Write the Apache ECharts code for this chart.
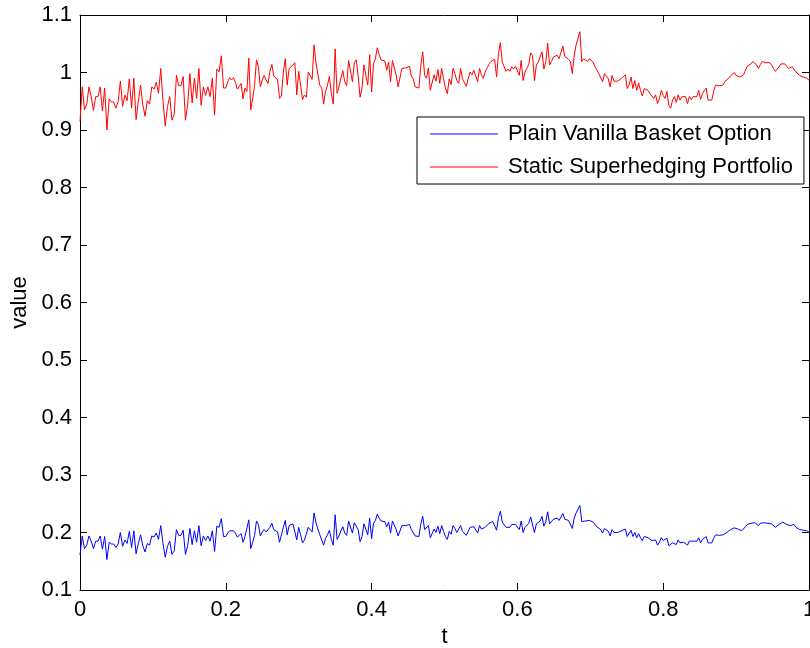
<!DOCTYPE html>
<html>
<head>
<meta charset="utf-8">
<script src="https://cdn.jsdelivr.net/npm/echarts@6/dist/echarts.min.js"></script>
<style>
html,body{margin:0;padding:0;background:#fff;}
#chart{width:810px;height:648px;}
</style>
</head>
<body>
<div id="chart"></div>
<script>
// Series names
const seriesNames = ['Plain Vanilla Basket Option', 'Static Superhedging Portfolio'];
// Axis ticks
const xTicks = [0, 0.2, 0.4, 0.6, 0.8, 1];
const yTicks = [0.1, 0.2, 0.3, 0.4, 0.5, 0.6, 0.7, 0.8, 0.9, 1, 1.1];
// segment boundaries on t (each segment spans 0.2)
const segStarts = [0, 0.2, 0.4, 0.6, 0.8];

// Static Superhedging Portfolio (red), read in five t-segments
const redSeg1 = [0.915,0.975,0.935,0.945,0.975,0.958,0.934,0.958,0.958,0.975,0.933,0.973,0.900,0.954,0.949,0.949,0.938,0.949,0.985,0.941,0.961,0.951,0.989,0.938,0.990,0.918,0.950,0.978,0.944,0.924,0.951,0.945,0.975,0.971,0.983,0.964,1.007,0.950,0.907,0.941,0.958,0.917,0.927,0.995,0.977,0.977,0.993,0.917,0.944,0.998,0.947,0.990,0.955,1.007,0.943,0.975,0.960,0.975,0.958,0.990,0.926,1.006,1.001,1.029,0.973];
const redSeg2 = [0.973,0.984,0.991,0.987,0.991,0.983,0.971,0.973,0.981,0.954,0.973,0.967,1.025,0.935,0.954,0.977,1.022,1.010,0.975,0.987,0.995,0.987,0.981,1.002,1.014,0.994,0.994,0.987,0.955,0.959,1.001,1.024,0.978,1.007,1.006,1.013,1.017,0.961,1.002,0.978,0.953,0.961,0.957,1.001,1.004,0.988,1.048,1.017,0.997,0.978,0.973,0.945,0.967,0.978,0.993,0.964,0.945,1.041,0.964,0.975,0.990,1.003,0.984,0.977,1.021,1.024,0.984,1.017,1.022,0.994,0.957,0.973,1.013,1.010,0.978,1.031];
const redSeg3 = [0.966,1.015,1.024,1.043,1.031,1.022,1.021,1.020,1.004,1.018,0.984,1.021,1.022,0.995,0.975,0.978,1.007,1.010,1.008,1.010,1.011,0.994,0.989,0.975,0.973,0.973,1.013,1.036,0.995,0.990,1.008,0.969,0.969,0.996,0.985,1.005,0.981,1.007,0.989,0.973,0.963,0.989,0.979,1.007,0.998,0.986,0.981,1.007,0.989,0.989,0.976,0.989,1.001,0.996,1.004,1.005,0.984,1.007,0.996,0.990,1.001,1.008,1.014,1.019,1.019,1.023,0.992,1.033,1.052,1.018,1.015,1.002,1.006,1.002,1.010,1.006,1.011];
const redSeg4 = [1.010,0.995,1.021,0.986,1.001,1.007,1.014,1.034,1.029,0.986,1.013,1.018,1.021,1.036,1.006,1.019,1.051,1.013,1.019,1.027,1.025,1.030,1.024,1.035,1.046,1.028,1.027,1.023,1.019,0.998,1.030,1.048,1.047,1.071,1.019,1.024,1.021,1.019,1.024,1.022,1.018,1.010,1.004,0.998,0.995,0.984,0.998,1.001,0.989,0.975,0.995,0.985,0.988,0.985,0.986,0.990,0.992,0.996,0.972,0.978,0.992,0.972,0.986,0.969,0.982,0.969,0.959,0.972,0.975,0.969,0.963,0.959,0.955,0.961,0.946,0.955,0.969];
const redSeg5 = [0.960,0.955,0.967,0.943,0.938,0.952,0.958,0.948,0.961,0.952,0.958,0.955,0.958,0.946,0.958,0.953,0.958,0.959,0.958,0.969,0.953,0.963,0.969,0.973,0.952,0.950,0.952,0.967,0.978,0.981,0.977,0.977,0.978,0.984,0.985,0.990,0.994,0.995,1.000,0.995,0.996,0.992,0.990,0.996,1.004,1.011,1.014,1.015,1.019,1.017,1.013,1.007,1.014,1.019,1.017,1.017,1.015,1.017,1.013,1.007,1.002,1.004,1.010,1.015,1.018,1.015,1.011,1.007,1.008,1.010,1.010,1.001,0.998,0.995,0.996,0.992,0.995,0.990,0.986];

// Plain Vanilla Basket Option (blue), read in five t-segments
const blueSeg1 = [0.161,0.194,0.172,0.178,0.194,0.185,0.172,0.185,0.185,0.194,0.171,0.193,0.153,0.183,0.180,0.180,0.174,0.180,0.200,0.176,0.187,0.181,0.202,0.174,0.203,0.163,0.181,0.196,0.177,0.166,0.181,0.178,0.194,0.192,0.199,0.188,0.212,0.181,0.157,0.176,0.185,0.162,0.168,0.205,0.195,0.195,0.204,0.162,0.177,0.207,0.179,0.203,0.183,0.212,0.177,0.194,0.186,0.194,0.185,0.203,0.167,0.211,0.209,0.224,0.193];
const blueSeg2 = [0.193,0.199,0.203,0.201,0.203,0.199,0.192,0.193,0.198,0.183,0.193,0.190,0.222,0.172,0.183,0.195,0.220,0.214,0.194,0.201,0.205,0.201,0.198,0.209,0.216,0.205,0.205,0.201,0.183,0.186,0.209,0.221,0.196,0.212,0.211,0.215,0.217,0.187,0.209,0.196,0.182,0.187,0.184,0.209,0.210,0.201,0.234,0.217,0.206,0.196,0.193,0.178,0.190,0.196,0.204,0.188,0.178,0.231,0.188,0.194,0.203,0.210,0.199,0.195,0.220,0.221,0.199,0.217,0.220,0.205,0.184,0.193,0.215,0.214,0.196,0.225];
const blueSeg3 = [0.189,0.216,0.221,0.232,0.225,0.220,0.220,0.219,0.210,0.218,0.199,0.220,0.220,0.205,0.194,0.196,0.212,0.214,0.212,0.214,0.214,0.205,0.202,0.194,0.193,0.193,0.215,0.228,0.205,0.203,0.212,0.191,0.191,0.206,0.200,0.211,0.198,0.212,0.202,0.193,0.188,0.202,0.197,0.212,0.207,0.200,0.198,0.212,0.202,0.202,0.195,0.202,0.209,0.206,0.210,0.211,0.199,0.212,0.206,0.203,0.209,0.212,0.216,0.219,0.219,0.221,0.204,0.226,0.237,0.218,0.216,0.209,0.211,0.209,0.214,0.211,0.214];
const blueSeg4 = [0.214,0.205,0.220,0.200,0.209,0.212,0.216,0.227,0.224,0.200,0.215,0.218,0.220,0.228,0.211,0.219,0.236,0.215,0.219,0.223,0.222,0.225,0.221,0.227,0.233,0.223,0.223,0.221,0.219,0.207,0.225,0.234,0.234,0.247,0.219,0.221,0.220,0.219,0.221,0.220,0.218,0.214,0.210,0.207,0.205,0.199,0.207,0.209,0.202,0.194,0.205,0.200,0.201,0.200,0.200,0.203,0.204,0.206,0.193,0.196,0.204,0.193,0.200,0.191,0.198,0.191,0.186,0.193,0.194,0.191,0.188,0.186,0.183,0.187,0.178,0.183,0.191];
const blueSeg5 = [0.186,0.183,0.190,0.177,0.174,0.182,0.185,0.179,0.187,0.182,0.185,0.183,0.185,0.178,0.185,0.182,0.185,0.186,0.185,0.191,0.182,0.188,0.191,0.193,0.182,0.181,0.182,0.190,0.196,0.198,0.195,0.195,0.196,0.199,0.200,0.203,0.205,0.205,0.208,0.205,0.206,0.204,0.203,0.206,0.210,0.214,0.216,0.216,0.219,0.217,0.215,0.212,0.216,0.219,0.217,0.217,0.216,0.217,0.215,0.212,0.209,0.210,0.214,0.216,0.218,0.216,0.214,0.212,0.212,0.214,0.214,0.209,0.207,0.205,0.206,0.204,0.205,0.203,0.200];

function buildSeries(segs) {
  const out = [];
  segs.forEach(function (s, k) {
    const last = k === segs.length - 1;
    const n = last ? s.length - 1 : s.length;
    s.forEach(function (v, i) {
      out.push([segStarts[k] + 0.2 * i / n, v]);
    });
  });
  return out;
}

const blueData = buildSeries([blueSeg1, blueSeg2, blueSeg3, blueSeg4, blueSeg5]);
const redData = buildSeries([redSeg1, redSeg2, redSeg3, redSeg4, redSeg5]);

const FONT = '"Liberation Sans", Arial, Helvetica, sans-serif';
const fmt = function (v) { return String(Math.round(v * 10) / 10); };

const chart = echarts.init(document.getElementById('chart'), null, {renderer: 'canvas'});

const axisCommon = {
  axisLine: {show: true, onZero: false, lineStyle: {color: '#000', width: 1}},
  axisTick: {show: true, inside: true, length: 7, lineStyle: {color: '#000', width: 1}},
  splitLine: {show: false}
};

chart.setOption({
  animation: false,
  backgroundColor: '#fff',
  textStyle: {fontFamily: FONT},
  grid: {left: 80, right: 1, top: 15, bottom: 58, containLabel: false, outerBoundsMode: 'none'},
  xAxis: [
    Object.assign({
      type: 'value', min: xTicks[0], max: xTicks[xTicks.length - 1], interval: 0.2,
      position: 'bottom',
      name: 't', nameLocation: 'middle', nameGap: 33,
      nameTextStyle: {fontSize: 22, color: '#000', fontFamily: FONT},
      axisLabel: {fontSize: 22, color: '#000', margin: 9, fontFamily: FONT, formatter: fmt, hideOverlap: false}
    }, axisCommon),
    Object.assign({
      type: 'value', min: xTicks[0], max: xTicks[xTicks.length - 1], interval: 0.2,
      position: 'top', axisLabel: {show: false}
    }, axisCommon)
  ],
  yAxis: [
    Object.assign({
      type: 'value', min: yTicks[0], max: yTicks[yTicks.length - 1], interval: 0.1,
      position: 'left',
      name: 'value', nameLocation: 'middle', nameGap: 47, nameRotate: 90,
      nameTextStyle: {fontSize: 22, color: '#000', fontFamily: FONT},
      axisLabel: {fontSize: 22, color: '#000', margin: 8, fontFamily: FONT, formatter: fmt}
    }, axisCommon),
    Object.assign({
      type: 'value', min: yTicks[0], max: yTicks[yTicks.length - 1], interval: 0.1,
      position: 'right', axisLabel: {show: false}
    }, axisCommon)
  ],
  legend: {
    show: true,
    orient: 'vertical',
    left: 417, top: 117,
    padding: [6, 11, 6, 13],
    itemGap: 11,
    itemWidth: 68, itemHeight: 1,
    icon: 'rect',
    backgroundColor: '#fff',
    borderColor: '#000', borderWidth: 1,
    textStyle: {fontSize: 22, lineHeight: 22, color: '#000', fontFamily: FONT, padding: [0, 0, 0, 5]},
    data: seriesNames
  },
  series: [
    {
      name: seriesNames[0], type: 'line', data: blueData,
      xAxisIndex: 0, yAxisIndex: 0,
      symbol: 'none', showSymbol: false,
      lineStyle: {color: '#0000ff', width: 1}, itemStyle: {color: '#0000ff'}
    },
    {
      name: seriesNames[1], type: 'line', data: redData,
      xAxisIndex: 0, yAxisIndex: 0,
      symbol: 'none', showSymbol: false,
      lineStyle: {color: '#ff0000', width: 1}, itemStyle: {color: '#ff0000'}
    }
  ]
});
</script>
</body>
</html>
